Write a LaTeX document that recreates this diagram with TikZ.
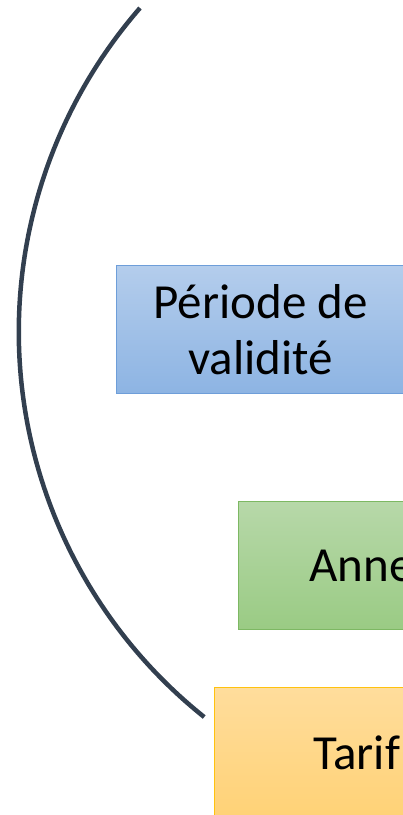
\documentclass[tikz,border=0pt]{standalone}
\usepackage{fontspec}
\setmainfont{Carlito}

\definecolor{arcline}{HTML}{323F4F}
\definecolor{bluetop}{HTML}{B4CDEC}
\definecolor{bluebot}{HTML}{8DB4E3}
\definecolor{blueedge}{HTML}{6E9ED9}
\definecolor{greentop}{HTML}{B7D8A9}
\definecolor{greenbot}{HTML}{9ACB84}
\definecolor{greenedge}{HTML}{7DB863}
\definecolor{orangetop}{HTML}{FFDD9C}
\definecolor{orangebot}{HTML}{FFD277}
\definecolor{orangeedge}{HTML}{FFC20E}

\begin{document}
\begin{tikzpicture}[x=1pt,y=1pt,font=\fontsize{49}{56}\selectfont,
  box/.style={draw, line width=1pt, minimum width=288pt, minimum height=128pt, anchor=north west, inner sep=0pt},
  bluebox/.style={box, draw=blueedge, top color=bluetop, bottom color=bluebot},
  greenbox/.style={box, draw=greenedge, top color=greentop, bottom color=greenbot},
  orangebox/.style={box, draw=orangeedge, top color=orangetop, bottom color=orangebot}]

\useasboundingbox (0,0) rectangle (403,-815);

% boxes
\node[bluebox, align=center] (periode) at (116,-265) {Période de\\validité};

\node[greenbox] (annexes) at (238,-501) {};
\node[anchor=base west, inner sep=0pt] (annexeslbl) at (309,-581) {Anne};

\node[orangebox] (tarifs) at (214,-687) {};
\node[anchor=base west, inner sep=0pt] (tarifslbl) at (313,-769) {Tarif};

% bracket arc
\draw[arcline, line width=4.5pt] (140,-8) arc[start angle=138.95, end angle=231.4, radius=493];

\end{tikzpicture}
\end{document}
